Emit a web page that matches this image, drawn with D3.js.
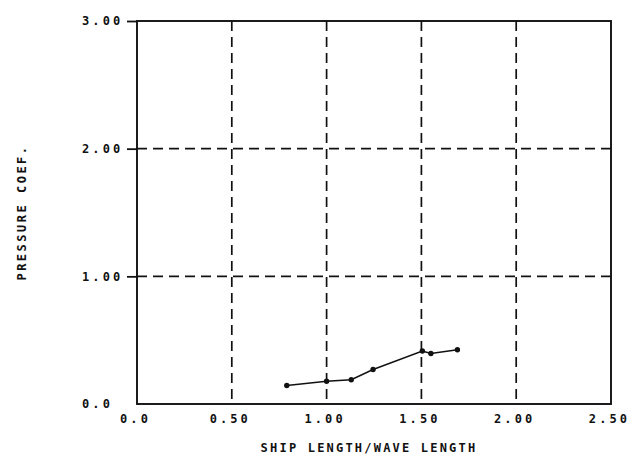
<!DOCTYPE html>
<html>
<head>
<meta charset="utf-8">
<script src="https://cdn.jsdelivr.net/npm/d3@7"></script>
<style>
  html, body { margin: 0; padding: 0; background: #fff; }
  text { font-family: "DejaVu Sans Mono", monospace; font-weight: bold; fill: #111; }
</style>
</head>
<body>
<svg id="chart" width="641" height="460"></svg>
<script>
// Ship length / wave length ratio and measured pressure coefficient
const ratio    = [0.79, 1.00, 1.13, 1.245, 1.505, 1.55, 1.69];
const pressure = [0.145, 0.178, 0.19, 0.27, 0.415, 0.395, 0.425];

const xTicks = [0, 0.5, 1.0, 1.5, 2.0, 2.5];
const xTickLabels = ["0.0", "0.50", "1.00", "1.50", "2.00", "2.50"];
const yTicks = [0, 1, 2, 3];
const yTickLabels = ["0.0", "1.00", "2.00", "3.00"];

const margin = { left: 137, right: 30, top: 21, bottom: 56 };
const W = 641, H = 460;
const svg = d3.select("#chart");

const x = d3.scaleLinear().domain([0, 2.5]).range([margin.left, W - margin.right]);
const y = d3.scaleLinear().domain([0, 3]).range([H - margin.bottom, margin.top]);

// dashed interior grid
const g = svg.append("g").attr("stroke", "#111").attr("stroke-width", 1.7)
  .attr("stroke-dasharray", "10,6");
g.selectAll("line.vx").data(xTicks.slice(1, -1)).join("line")
  .attr("x1", d => x(d)).attr("x2", d => x(d))
  .attr("y1", y(3)).attr("y2", y(0));
g.selectAll("line.hy").data(yTicks.slice(1, -1)).join("line")
  .attr("x1", x(0)).attr("x2", x(2.5))
  .attr("y1", d => y(d)).attr("y2", d => y(d));

// plot frame
svg.append("rect")
  .attr("x", x(0)).attr("y", y(3))
  .attr("width", x(2.5) - x(0)).attr("height", y(0) - y(3))
  .attr("fill", "none").attr("stroke", "#111").attr("stroke-width", 1.9);

const styleTicks = sel => sel.selectAll("text")
  .attr("font-size", 12).attr("letter-spacing", 3.1)
  .attr("font-family", "DejaVu Sans Mono").attr("font-weight", "bold").attr("fill", "#111");

// x axis: labels only, shifted slightly left of each grid line
const xAxis = d3.axisBottom(x).tickValues(xTicks)
  .tickFormat((d, i) => xTickLabels[i]).tickSize(0).tickPadding(10);
const xg = svg.append("g").attr("transform", `translate(-2,${y(0)})`).call(xAxis);
xg.select(".domain").remove();
styleTicks(xg);

// y axis: short outward ticks, left-aligned labels
const yAxis = d3.axisLeft(y).tickValues(yTicks)
  .tickFormat((d, i) => yTickLabels[i]).tickSize(10).tickSizeOuter(0);
const yg = svg.append("g").attr("transform", `translate(${x(0)},0)`).call(yAxis);
yg.select(".domain").remove();
yg.selectAll(".tick line").attr("stroke", "#111").attr("stroke-width", 1.8);
yg.selectAll(".tick").filter(d => d === 0).select("line").remove();
styleTicks(yg);
yg.selectAll("text").attr("text-anchor", "start").attr("x", 82 - x(0));

// axis titles
svg.append("text").attr("x", (x(0) + x(2.5)) / 2 - 5).attr("y", 452)
  .attr("text-anchor", "middle").attr("font-size", 12).attr("letter-spacing", 2.2)
  .text("SHIP LENGTH/WAVE LENGTH");
svg.append("text")
  .attr("transform", `translate(26,${(y(0) + y(3)) / 2}) rotate(-90)`)
  .attr("text-anchor", "middle").attr("font-size", 12).attr("letter-spacing", 2.5)
  .text("PRESSURE COEF.");

// data line and points
const pts = ratio.map((r, i) => [r, pressure[i]]);
svg.append("path").datum(pts)
  .attr("fill", "none").attr("stroke", "#111").attr("stroke-width", 1.5)
  .attr("d", d3.line().x(d => x(d[0])).y(d => y(d[1])));
svg.selectAll("circle.pt").data(pts).join("circle")
  .attr("cx", d => x(d[0])).attr("cy", d => y(d[1])).attr("r", 2.7)
  .attr("fill", "#111");
</script>
</body>
</html>
